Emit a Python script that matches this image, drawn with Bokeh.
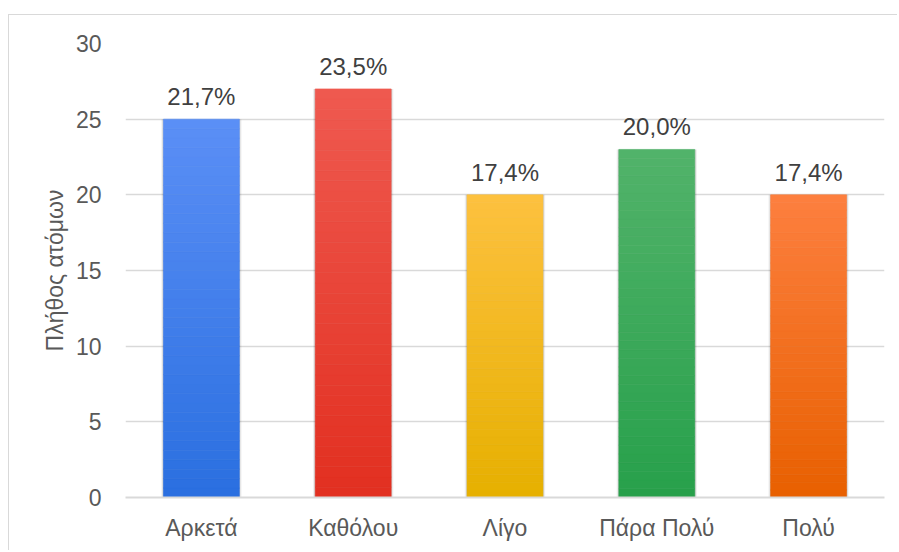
from bokeh.plotting import figure
from bokeh.models import ColumnDataSource, FactorRange, Range1d, FixedTicker, LabelSet
from bokeh.core.properties import value
from bokeh.embed import file_html
from bokeh.resources import INLINE

categories = ["Αρκετά", "Καθόλου", "Λίγο", "Πάρα Πολύ", "Πολύ"]
counts = [25, 27, 20, 23, 20]
pct_labels = ["21,7%", "23,5%", "17,4%", "20,0%", "17,4%"]
top_colors = ["#5b8ff6", "#ef5a50", "#fdc13f", "#52b36a", "#fd7f3f"]
bottom_colors = ["#2a6fe0", "#e22f20", "#e6b000", "#27a04b", "#e86000"]
y_ticks = [0, 5, 10, 15, 20, 25, 30]

FONT = "Liberation Sans"


def hex2rgb(h):
    h = h.lstrip("#")
    return tuple(int(h[i:i + 2], 16) for i in (0, 2, 4))


def mix(c1, c2, t):
    a, b = hex2rgb(c1), hex2rgb(c2)
    return "#%02x%02x%02x" % tuple(int(round(a[i] + (b[i] - a[i]) * t)) for i in range(3))


p = figure(
    x_range=FactorRange(*categories, range_padding=0),
    y_range=Range1d(0, 30),
    width=889, height=536,
    output_backend="svg", toolbar_location=None,
    min_border_left=116, min_border_right=14, min_border_top=28, min_border_bottom=54,
    background_fill_color="white", border_fill_color="white",
)
p.margin = (14, 0, 0, 8)
p.styles = {"border-top": "1.5px solid #d9d9d9", "border-left": "1.5px solid #d9d9d9"}
p.outline_line_color = None

# soft shadow
for extra, alpha in [(0.03, 0.05), (0.018, 0.07), (0.008, 0.10)]:
    p.vbar(x=categories, top=counts, width=0.5 + extra, bottom=0,
           fill_color="#000000", fill_alpha=alpha, line_color=None)

# gradient bars built from stacked slices
n = 40
xs, bots, tops, cols = [], [], [], []
for cat, v, ct, cb in zip(categories, counts, top_colors, bottom_colors):
    for i in range(n):
        xs.append(cat)
        bots.append(v * i / n)
        tops.append(v * (i + 1) / n)
        cols.append(mix(cb, ct, (i + 0.5) / n))
seg = ColumnDataSource(dict(x=xs, bottom=bots, top=tops, color=cols))
p.vbar(x="x", bottom="bottom", top="top", width=0.5, fill_color="color",
       line_color="color", line_width=0.6, source=seg)

lab = ColumnDataSource(dict(x=categories, y=counts, t=pct_labels))
p.add_layout(LabelSet(x="x", y="y", text="t", source=lab, x_offset=0, y_offset=14,
                      text_align="center", text_baseline="alphabetic",
                      text_font=value(FONT), text_font_size=value("24px"),
                      text_color="#404040"))

p.yaxis.ticker = FixedTicker(ticks=y_ticks)
p.yaxis.axis_label = "Πλήθος ατόμων"
p.yaxis.axis_label_text_font = FONT
p.yaxis.axis_label_text_font_size = "23px"
p.yaxis.axis_label_text_font_style = "normal"
p.yaxis.axis_label_text_color = "#595959"
p.yaxis.axis_label_standoff = 5
p.yaxis.axis_line_color = None
p.yaxis.major_tick_line_color = None
p.yaxis.minor_tick_line_color = None
p.yaxis.major_label_text_font = FONT
p.yaxis.major_label_text_font_size = "23px"
p.yaxis.major_label_text_color = "#595959"
p.yaxis.major_label_standoff = 18

p.xaxis.axis_line_color = "#d9d9d9"
p.xaxis.axis_line_width = 2
p.xaxis.major_tick_line_color = None
p.xaxis.minor_tick_line_color = None
p.xaxis.major_label_text_font = FONT
p.xaxis.major_label_text_font_size = "23px"
p.xaxis.major_label_text_color = "#595959"
p.xaxis.major_label_standoff = 11

p.xgrid.grid_line_color = None
p.ygrid.grid_line_color = "#d9d9d9"
p.ygrid.grid_line_width = 1.5

open("out.html", "w").write(file_html(p, INLINE))
